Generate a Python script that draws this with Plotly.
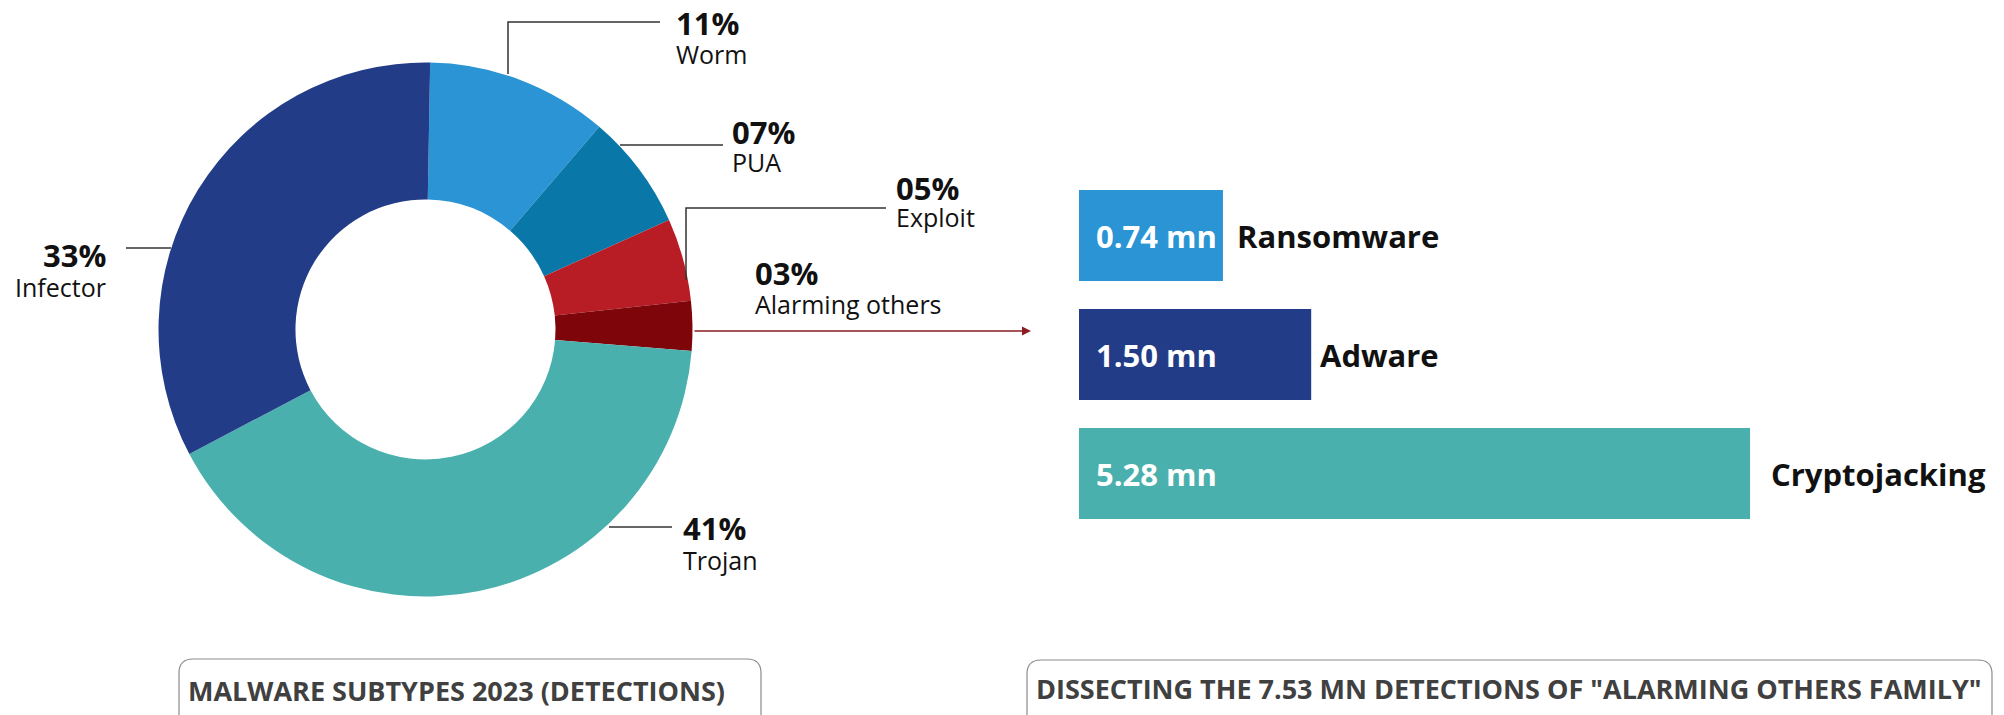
import plotly.graph_objects as go

W, H = 2004, 715
OFFSET = 8  # page body margin shifts the figure by 8px

# donut data
subtypes = ["Worm", "PUA", "Exploit", "Alarming others", "Trojan", "Infector"]
shares = [11, 7, 5, 3, 41, 33]
share_labels = ["11%", "07%", "05%", "03%", "41%", "33%"]
slice_colors = ["#2A94D4", "#0A77A9", "#B81C24", "#7E050A", "#4AB0AD", "#233C87"]

# bar data
families = ["Ransomware", "Adware", "Cryptojacking"]
detections_mn = [0.74, 1.50, 5.28]
bar_colors = ["#2A94D4", "#233C87", "#4AB0AD"]

BAR_BASE = -0.5
FONT = "Open Sans"


def px(x):
    return (x - OFFSET) / W


def py(y):
    return 1 - (y - OFFSET) / H


fig = go.Figure()

fig.add_trace(
    go.Pie(
        labels=subtypes,
        values=shares,
        hole=0.487,
        sort=False,
        direction="clockwise",
        rotation=1,
        marker=dict(colors=slice_colors, line=dict(width=0)),
        textinfo="none",
        hoverinfo="label+percent",
        domain=dict(x=[px(425.5 - 267), px(425.5 + 267)], y=[py(596.5), py(62.5)]),
        showlegend=False,
    )
)

fig.add_trace(
    go.Bar(
        x=[v - BAR_BASE for v in detections_mn],
        base=BAR_BASE,
        y=families,
        orientation="h",
        width=0.765,
        marker=dict(color=bar_colors, line=dict(width=0)),
        hoverinfo="y",
        showlegend=False,
        xaxis="x",
        yaxis="y",
    )
)

bar_px_per_unit = 116.1
x_left = 1079
fig.update_layout(
    width=W,
    height=H,
    margin=dict(l=0, r=0, t=0, b=0),
    paper_bgcolor="white",
    plot_bgcolor="white",
    font=dict(family=FONT, color="#111111"),
    xaxis=dict(
        domain=[px(x_left), 1],
        range=[BAR_BASE, BAR_BASE + (W + OFFSET - x_left) / bar_px_per_unit],
        visible=False,
    ),
    yaxis=dict(
        domain=[py(533), py(176)],
        categoryorder="array",
        categoryarray=families,
        range=[2.5, -0.5],
        visible=False,
    ),
)

# pie labels: (x, y of percent, y of name, anchor)
label_pos = [
    (675, 23, 54, "left"),
    (731, 132, 162, "left"),
    (895, 188, 217, "left"),
    (754, 273, 304, "left"),
    (682, 528, 560, "left"),
    (107, 255, 287, "right"),
]
for pct, name, (x, y1, y2, anchor) in zip(share_labels, subtypes, label_pos):
    fig.add_annotation(
        x=px(x), y=py(y1), xref="paper", yref="paper", text=pct,
        showarrow=False, xanchor=anchor, yanchor="middle", borderpad=0,
        font=dict(size=31, weight="bold", color="#111111"),
    )
    fig.add_annotation(
        x=px(x), y=py(y2), xref="paper", yref="paper", text=name,
        showarrow=False, xanchor=anchor, yanchor="middle", borderpad=0,
        font=dict(size=25, color="#111111"),
    )

# leader lines
leaders = [
    [(508, 74), (508, 22), (660, 22)],
    [(620, 145), (723, 145)],
    [(686, 280), (686, 208), (886, 208)],
    [(126, 248), (171, 248)],
    [(609, 527), (672, 527)],
]
for pts in leaders:
    path = "M " + " L ".join(f"{px(x)},{py(y)}" for x, y in pts)
    fig.add_shape(type="path", path=path, xref="paper", yref="paper",
                  line=dict(color="#333333", width=1.5))

# arrow from "alarming others" slice to bar chart
fig.add_annotation(
    x=px(1031), y=py(331), xref="paper", yref="paper", text="",
    showarrow=True, ax=-(1031 - 693), ay=0, arrowhead=2, arrowsize=1.2,
    arrowwidth=1.5, arrowcolor="#8A1C22", standoff=0,
)

# bar value labels and category labels
for fam, val in zip(families, detections_mn):
    fig.add_annotation(
        x=BAR_BASE, y=fam, xref="x", yref="y", text=f"{val:.2f} mn",
        showarrow=False, xanchor="left", xshift=15,
        font=dict(size=31, weight="bold", color="white"),
    )
for fam, val in zip(families, detections_mn):
    if fam == "Cryptojacking":
        fig.add_annotation(
            x=val, y=fam, xref="x", yref="y", text=fam, showarrow=False,
            xanchor="left", xshift=19,
            font=dict(size=31, weight="bold", color="#111111"),
        )
    else:
        fig.add_annotation(
            x=px(1441), y=fam, xref="paper", yref="y", text=fam,
            showarrow=False, xanchor="right",
            font=dict(size=31, weight="bold", color="#111111"),
        )


# rounded title boxes (bottom edge runs off the page)
def box_path(x0, x1, yt, yb, r=14):
    pts = [
        f"M {px(x0)},{py(yb)}",
        f"L {px(x0)},{py(yt + r)}",
        f"Q {px(x0)},{py(yt)} {px(x0 + r)},{py(yt)}",
        f"L {px(x1 - r)},{py(yt)}",
        f"Q {px(x1)},{py(yt)} {px(x1)},{py(yt + r)}",
        f"L {px(x1)},{py(yb)}",
    ]
    return " ".join(pts)


titles = [
    ("MALWARE SUBTYPES 2023 (DETECTIONS)", 179, 761, 659, 456, 690),
    ('DISSECTING THE 7.53 MN DETECTIONS OF "ALARMING OTHERS FAMILY"', 1027, 1992, 660, 1509, 688),
]
for text, x0, x1, yt, tx, ty in titles:
    fig.add_shape(type="path", path=box_path(x0, x1, yt, 760), xref="paper", yref="paper",
                  line=dict(color="#8C8C8C", width=1.2))
    fig.add_annotation(
        x=px(tx), y=py(ty), xref="paper", yref="paper", text=text,
        showarrow=False, xanchor="center", yanchor="middle",
        font=dict(size=27, weight="bold", color="#404040"),
    )

fig.write_html("out.html")
